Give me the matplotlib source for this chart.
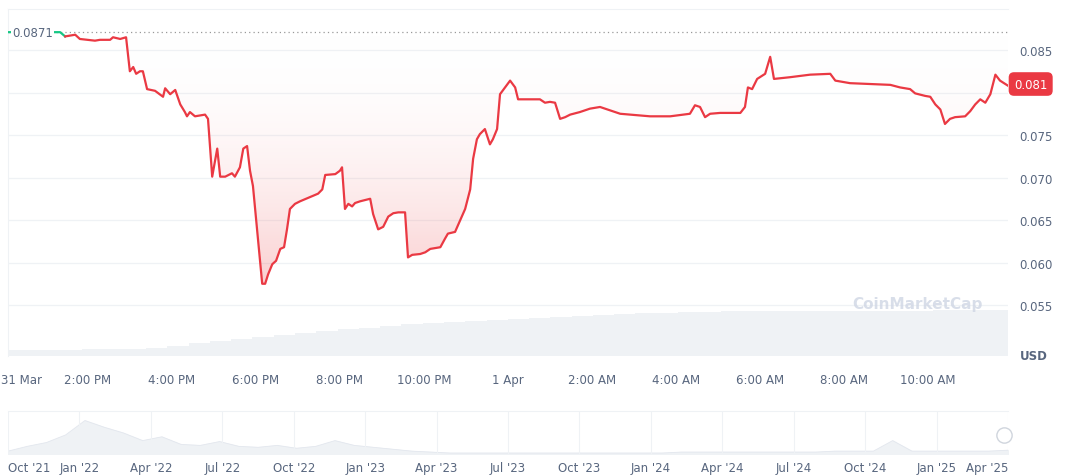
import matplotlib
matplotlib.use("Agg")
import matplotlib.pyplot as plt
import numpy as np
from matplotlib.colors import LinearSegmentedColormap

hours = [12.10,13.34,13.46,13.70,13.81,14.17,14.29,14.53,14.60,14.77,14.91,15.00,15.08,15.15,15.24,15.31,15.41,15.60,15.79,15.84,15.96,16.08,16.20,16.31,16.36,16.43,16.55,16.79,16.86,16.96,17.08,17.15,17.27,17.43,17.50,17.62,17.70,17.79,17.86,17.93,18.05,18.15,18.22,18.29,18.39,18.48,18.58,18.67,18.74,18.81,18.93,19.05,19.29,19.48,19.58,19.65,19.89,20.00,20.05,20.12,20.20,20.29,20.36,20.48,20.72,20.79,20.91,21.03,21.15,21.27,21.39,21.55,21.62,21.72,21.91,22.03,22.15,22.39,22.50,22.57,22.74,22.98,23.10,23.17,23.26,23.33,23.45,23.57,23.64,23.74,23.81,23.93,24.05,24.17,24.24,24.52,24.76,24.88,25.00,25.12,25.24,25.36,25.48,25.71,25.95,26.19,26.31,26.67,26.90,27.38,27.86,28.33,28.45,28.57,28.69,28.81,29.05,29.53,29.64,29.71,29.81,29.93,30.12,30.24,30.33,30.71,31.19,31.67,31.79,32.14,32.62,33.10,33.33,33.57,33.69,33.93,34.05,34.17,34.29,34.40,34.52,34.64,34.88,35.00,35.12,35.24,35.36,35.48,35.60,35.71,35.90]
prices = [0.0871,0.0871,0.0866,0.0868,0.0863,0.0861,0.0862,0.0862,0.0865,0.0863,0.0865,0.0825,0.0830,0.0822,0.0825,0.0825,0.0804,0.0802,0.0795,0.0805,0.0798,0.0803,0.0786,0.0777,0.0772,0.0777,0.0772,0.0774,0.0769,0.0701,0.0734,0.0701,0.0701,0.0705,0.0701,0.0712,0.0734,0.0737,0.0708,0.0690,0.0628,0.0575,0.0575,0.0586,0.0598,0.0602,0.0616,0.0618,0.0639,0.0663,0.0669,0.0672,0.0677,0.0681,0.0686,0.0703,0.0704,0.0708,0.0712,0.0663,0.0669,0.0666,0.0670,0.0672,0.0675,0.0657,0.0639,0.0642,0.0654,0.0658,0.0659,0.0659,0.0606,0.0609,0.0610,0.0612,0.0616,0.0618,0.0628,0.0634,0.0636,0.0663,0.0686,0.0722,0.0745,0.0751,0.0757,0.0739,0.0745,0.0757,0.0798,0.0806,0.0814,0.0806,0.0792,0.0792,0.0792,0.0788,0.0789,0.0788,0.0769,0.0771,0.0774,0.0777,0.0781,0.0783,0.0781,0.0775,0.0774,0.0772,0.0772,0.0775,0.0785,0.0783,0.0771,0.0775,0.0776,0.0776,0.0783,0.0806,0.0804,0.0816,0.0822,0.0842,0.0816,0.0818,0.0821,0.0822,0.0814,0.0811,0.0810,0.0809,0.0806,0.0804,0.0799,0.0796,0.0795,0.0786,0.0780,0.0763,0.0769,0.0771,0.0772,0.0778,0.0786,0.0792,0.0788,0.0798,0.0821,0.0814,0.0808]
vol_hours = list(np.linspace(12.1, 35.9, 48))
volumes = [6,6,6,6,7,7,7,8,10,13,15,17,19,21,23,25,27,28,30,32,33,34,35,36,37,38,39,40,41,42,43,43,44,44,45,45,45,45,45,45,45,45,45,45,46,46,46,46]
nav_vals = [3,8,12,20,35,28,22,14,18,10,9,13,8,7,9,6,8,14,9,7,5,3,2,1,1,1,1,1,1,1,1,1,1,1,1,2,2,2,2,2,2,2,2,3,3,3,14,3,3,3,3,3,4]
nav_ticks = ["Oct '21","Jan '22","Apr '22","Jul '22","Oct '22","Jan '23","Apr '23","Jul '23","Oct '23","Jan '24","Apr '24","Jul '24","Oct '24","Jan '25","Apr '25"]
time_ticks = [12.43,14,16,18,20,22,24,26,28,30,32,34]
time_labels = ["31 Mar","2:00 PM","4:00 PM","6:00 PM","8:00 PM","10:00 PM","1 Apr","2:00 AM","4:00 AM","6:00 AM","8:00 AM","10:00 AM"]
yticks = [0.055,0.060,0.065,0.070,0.075,0.080,0.085]
ref = 0.0871
last = 0.081

fig = plt.figure(figsize=(10.72,4.77), dpi=100)
X0, W = 8/1072, 1000/1072
tc = "#58667e"

axv = fig.add_axes([X0, 1-357/477, W, 0.105])
step = vol_hours[1]-vol_hours[0]
axv.bar(vol_hours, volumes, width=step*1.02, color="#eff2f5", align="center")
axv.set_xlim(12.1, 35.9); axv.set_ylim(0, 50); axv.axis("off")

ax = fig.add_axes([X0, 1-357/477, W, 0.727])
ax.patch.set_alpha(0)
ax.set_xlim(12.1, 35.9); ax.set_ylim(0.049, 0.0898)
h = np.array(hours); p = np.array(prices)
cmap = LinearSegmentedColormap.from_list("g", [(1,1,1,0), (0.92,0.22,0.24,0.25)])
poly = ax.fill_between(h, p, ref, color="none")
img = ax.imshow(np.linspace(0,1,256).reshape(-1,1), aspect="auto", cmap=cmap,
                extent=[12.1,35.9,0.057,ref], origin="upper", zorder=1)
img.set_clip_path(poly.get_paths()[0], transform=ax.transData)
ax.plot(h[:3], p[:3], color="#16c784", lw=1.6, zorder=3)
ax.plot(h[2:], p[2:], color="#ea3943", lw=1.6, zorder=3)
ax.axhline(ref, color="#999", lw=0.9, ls=(0,(1,2.5)), zorder=2)
for y in yticks:
    ax.axhline(y, color="#eff2f5", lw=0.9, zorder=0)
ax.yaxis.tick_right()
ax.set_yticks(yticks, [f"{y:.3f}" if y != 0.080 else "" for y in yticks])
ax.set_xticks(time_ticks, time_labels)
ax.tick_params(length=0, labelsize=8.5, colors=tc)
ax.tick_params(axis="x", pad=12)
ax.tick_params(axis="y", pad=8)
for s in ["right","bottom"]:
    ax.spines[s].set_visible(False)
ax.spines["top"].set_color("#eff2f5"); ax.spines["left"].set_color("#eff2f5")
ax.text(1.012, 0.0, "USD", transform=ax.transAxes, fontsize=8.5, color=tc, fontweight="bold", va="center")
ax.text(12.2, ref, "0.0871", fontsize=8.5, color=tc, va="center", ha="left",
        bbox=dict(fc="white", ec="none", pad=1), zorder=4)
ax.text(1.006, (last-0.049)/(0.0898-0.049), "0.081", transform=ax.transAxes, fontsize=8.5,
        color="white", va="center", ha="left",
        bbox=dict(boxstyle="round,pad=0.45", fc="#ea3943", ec="none"))
ax.text(0.975, 0.15, "CoinMarketCap", transform=ax.transAxes, fontsize=11, color="#cfd6e4",
        ha="right", va="center", fontweight="bold", alpha=0.8)

axn = fig.add_axes([X0, 22/477, W, 43/477])
nx = np.arange(len(nav_vals))
axn.fill_between(nx, nav_vals, 0, color="#eff2f5")
axn.plot(nx, nav_vals, color="#e3e7ee", lw=0.6)
axn.set_xlim(0, len(nav_vals)-1); axn.set_ylim(0, 45)
pos = np.linspace(0, len(nav_vals)-1, len(nav_ticks))
axn.set_xticks(pos, nav_ticks)
axn.get_xticklabels()[0].set_ha("left")
axn.get_xticklabels()[-1].set_ha("right")
for x in pos:
    axn.axvline(x, color="#eff2f5", lw=0.8)
axn.set_yticks([])
axn.tick_params(length=0, labelsize=8.5, colors=tc, pad=5)
for s in ["left","right","bottom"]:
    axn.spines[s].set_visible(False)
axn.spines["top"].set_color("#eff2f5")
axn.plot([len(nav_vals)-1.2], [20], marker="o", ms=11, mfc="white", mec="#d0d5dd", clip_on=False)
fig.savefig("out.png", dpi=100)
